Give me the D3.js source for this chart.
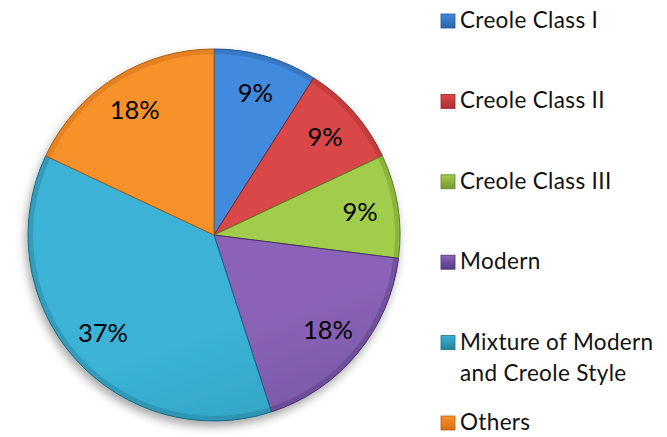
<!DOCTYPE html>
<html><head><meta charset="utf-8">
<script src="https://cdn.jsdelivr.net/npm/d3@7"></script>
<style>body{margin:0;background:#fff}svg{display:block}</style></head>
<body><svg id="c" width="667" height="437"></svg>
<script>
const categories = ["Creole Class I","Creole Class II","Creole Class III","Modern","Mixture of Modern and Creole Style","Others"];
const values = [9, 9, 9, 18, 37, 18];
const valueLabels = ["9%","9%","9%","18%","37%","18%"];
const legendLines = [["Creole Class I"],["Creole Class II"],["Creole Class III"],["Modern"],["Mixture of Modern","and Creole Style"],["Others"]];
const topColors = ["#428add","#d94648","#a2cc4c","#8a64b8","#3ab2d6","#f7922a"];
const bottomColors = ["#2a64aa","#ae2e31","#72992e","#573983","#23809c","#d87014"];

const svg = d3.select("#c");
const cx = 214, cy = 235, R = 186, labelR = 148;
const defs = svg.append("defs");

const f = defs.append("filter").attr("id","sh").attr("x","-20%").attr("y","-20%").attr("width","140%").attr("height","140%");
f.append("feGaussianBlur").attr("in","SourceAlpha").attr("stdDeviation",5).attr("result","b");
f.append("feOffset").attr("in","b").attr("dx",-2).attr("dy",5).attr("result","o");
f.append("feComponentTransfer").attr("in","o").attr("result","o2")
  .append("feFuncA").attr("type","linear").attr("slope",0.35);
const m = f.append("feMerge");
m.append("feMergeNode").attr("in","o2");
m.append("feMergeNode").attr("in","SourceGraphic");

categories.forEach((c,i)=>{
  const g = defs.append("linearGradient").attr("id","g"+i)
    .attr("gradientUnits","userSpaceOnUse")
    .attr("x1",cx-R*0.4).attr("y1",cy-R).attr("x2",cx+R*0.3).attr("y2",cy+R);
  g.append("stop").attr("offset","0%").attr("stop-color",topColors[i]);
  g.append("stop").attr("offset","100%").attr("stop-color",bottomColors[i]);
  const lg = defs.append("linearGradient").attr("id","lg"+i)
    .attr("x1",0).attr("y1",0).attr("x2",0).attr("y2",1);
  lg.append("stop").attr("offset","0%").attr("stop-color",topColors[i]);
  lg.append("stop").attr("offset","100%").attr("stop-color",bottomColors[i]);
});

const pie = d3.pie().sort(null).value(d=>d);
const arcs = pie(values);
const arc = d3.arc().innerRadius(0).outerRadius(R);
const rim = d3.arc().innerRadius(R-5).outerRadius(R);
const labelArc = d3.arc().innerRadius(labelR).outerRadius(labelR);

const gp = svg.append("g").attr("transform",`translate(${cx},${cy})`);
const slices = gp.append("g").attr("filter","url(#sh)");
slices.selectAll("path.s").data(arcs).join("path").attr("class","s")
  .attr("d",arc).attr("fill",(d,i)=>`url(#g${i})`)
  .attr("stroke",(d,i)=>d3.color(bottomColors[i]).darker(0.6)).attr("stroke-width",1);
gp.selectAll("path.r").data(arcs).join("path").attr("class","r")
  .attr("d",rim).attr("fill",(d,i)=>d3.color(bottomColors[i]).darker(0.3)).attr("opacity",0.35);

gp.selectAll("text").data(arcs).join("text")
  .attr("transform",d=>`translate(${labelArc.centroid(d)})`)
  .attr("text-anchor","middle").attr("dy","0.36em")
  .attr("font-family","Lato, 'Open Sans', sans-serif").attr("font-size",25.5)
  .attr("fill","#000").text((d,i)=>valueLabels[i]);

const lg = svg.append("g");
const rowY = d3.scalePoint().domain(d3.range(categories.length)).range([28, 430]);
categories.forEach((c,i)=>{
  const y = rowY(i);
  lg.append("rect").attr("x",441).attr("y",y-14).attr("width",14).attr("height",14)
    .attr("fill",`url(#lg${i})`).attr("stroke",d3.color(bottomColors[i]).darker(0.4)).attr("stroke-width",0.8);
  const t = lg.append("text").attr("x",460).attr("y",y)
    .attr("font-family","Lato, 'Open Sans', sans-serif").attr("font-size",22.5)
    .attr("letter-spacing",0.35).attr("fill","#111");
  legendLines[i].forEach((ln,j)=>{
    t.append("tspan").attr("x",460).attr("dy",j===0?0:31).text(ln);
  });
});
</script></body></html>
